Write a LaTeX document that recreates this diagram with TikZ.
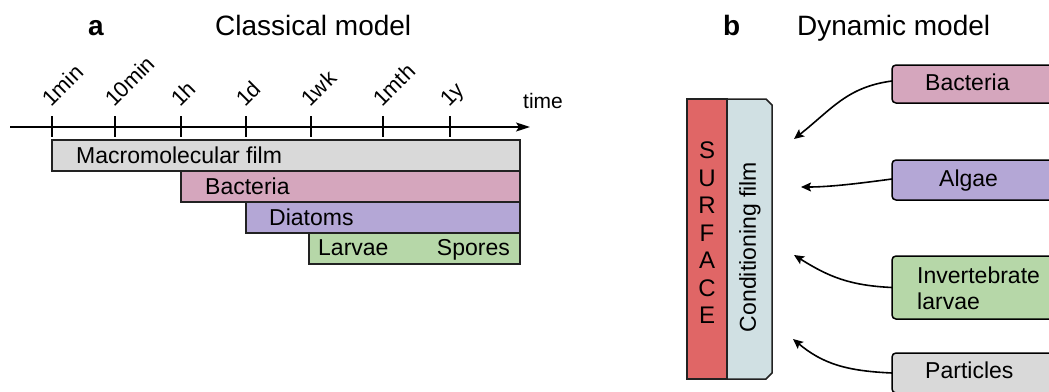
\documentclass[tikz,border=0pt]{standalone}
\usepackage{fontspec}
\setmainfont{Liberation Sans}
\usetikzlibrary{arrows.meta}
\definecolor{cgray}{HTML}{D9D9D9}
\definecolor{cpink}{HTML}{D5A6BD}
\definecolor{cpurple}{HTML}{B4A7D6}
\definecolor{cgreen}{HTML}{B6D7A8}
\definecolor{cred}{HTML}{E06666}
\definecolor{ccyan}{HTML}{D0E0E3}
\definecolor{edgec}{HTML}{222222}
\begin{document}
\begin{tikzpicture}[x=1pt,y=-1pt,
  bar/.style={draw=edgec, line width=1.5pt, anchor=north west, inner sep=0pt, outer sep=0pt},
  rbox/.style={bar, draw=black, rounded corners=4pt, minimum width=220pt},
  txt/.style={anchor=base west, inner sep=0pt, font=\fontsize{23}{26}\selectfont},
  ticklbl/.style={anchor=base west, inner sep=0pt, rotate=45, font=\fontsize{22}{26}\selectfont},
  title/.style={anchor=base west, inner sep=0pt, font=\fontsize{28}{32}\selectfont},
  axisline/.style={line width=1.6pt, draw=black},
  flow/.style={line width=1.6pt, draw=black, -{Stealth[length=10pt,width=9pt,inset=2pt]}}
]
\useasboundingbox (0,0) rectangle (1049,391);
\clip (0,0) rectangle (1049,391);

% ---------- panel a ----------
\node[title, font=\fontsize{28}{32}\selectfont\bfseries] (la) at (88,35) {a};
\node[title] (ta) at (215,35) {Classical model};

\coordinate (ax0) at (10,127);
\coordinate (ax1) at (530,127);
\draw[axisline, -{Stealth[length=14pt,width=9pt,inset=3pt]}] (ax0) -- (ax1);
\node[txt, font=\fontsize{21}{24}\selectfont] (time) at (523,108) {time};

\foreach \x/\lab [count=\i] in {52/1min,115/10min,181/1h,246/1d,311/1wk,383/1mth,450/1y}{
  \draw[axisline] (\x,116) -- (\x,137);
  \node[ticklbl] (tl\i) at (\x-1,108) {\lab};
}

\node[bar, fill=cgray,   minimum width=468pt, minimum height=31pt] (mf)  at (52,140) {};
\node[bar, fill=cpink,   minimum width=339pt, minimum height=31pt] (bacA) at (181,171) {};
\node[bar, fill=cpurple, minimum width=274pt, minimum height=31pt] (dia) at (246,202) {};
\node[bar, fill=cgreen,  minimum width=211pt, minimum height=31pt] (lar) at (309,233) {};
\node[txt] (mft) at (76,163) {Macromolecular film};
\node[txt] (bact) at (205,194) {Bacteria};
\node[txt] (diat) at (269,225) {Diatoms};
\node[txt] (lart) at (318,255) {Larvae};
\node[txt, anchor=base east] (spt) at (510,255) {Spores};

% ---------- panel b ----------
\node[title, font=\fontsize{28}{32}\selectfont\bfseries] (lb) at (723,35) {b};
\node[title] (tb) at (797,35) {Dynamic model};

\node[bar, fill=cred, minimum width=40pt, minimum height=280pt] (surf) at (687,99) {};
\draw[draw=edgec, line width=1.5pt, fill=ccyan] (727,99) -- (766,99) -- (772,105) -- (772,373) -- (766,379) -- (727,379) -- cycle;
\node[inner sep=0pt, align=center, font=\fontsize{24}{27.5}\selectfont] (surft) at (707,233) {S\\U\\R\\F\\A\\C\\E};
\node[inner sep=0pt, rotate=90, font=\fontsize{23}{26}\selectfont] (filmt) at (750,247) {Conditioning film};

\node[rbox, fill=cpink,   minimum height=38pt] (rb1) at (892,65) {};
\node[rbox, fill=cpurple, minimum height=40pt] (rb2) at (892,160) {};
\node[rbox, fill=cgreen,  minimum height=63pt] (rb3) at (892,256) {};
\node[rbox, fill=cgray,   minimum height=40pt] (rb4) at (892,353) {};
\node[txt] (rt1) at (925,90) {Bacteria};
\node[txt] (rt2) at (939,186) {Algae};
\node[txt, align=left] (rt3) at (917,309) {Invertebrate\\larvae};
\node[txt] (rt4) at (925,378) {Particles};

\coordinate (e1) at (794,139);
\coordinate (e2) at (801,187);
\coordinate (e3) at (794,255);
\coordinate (e4) at (793,339);
\draw[flow] ([yshift=3pt]rb1.west) .. controls +(-45,6) and +(38,-30) .. (e1);
\draw[flow] ([yshift=1pt]rb2.west) .. controls +(-30,4) and +(30,0) .. (e2);
\draw[flow] (rb3.west) .. controls +(-42,-2) and +(35,22) .. (e3);
\draw[flow] (rb4.west) .. controls +(-45,-2) and +(30,25) .. (e4);
\end{tikzpicture}
\end{document}
